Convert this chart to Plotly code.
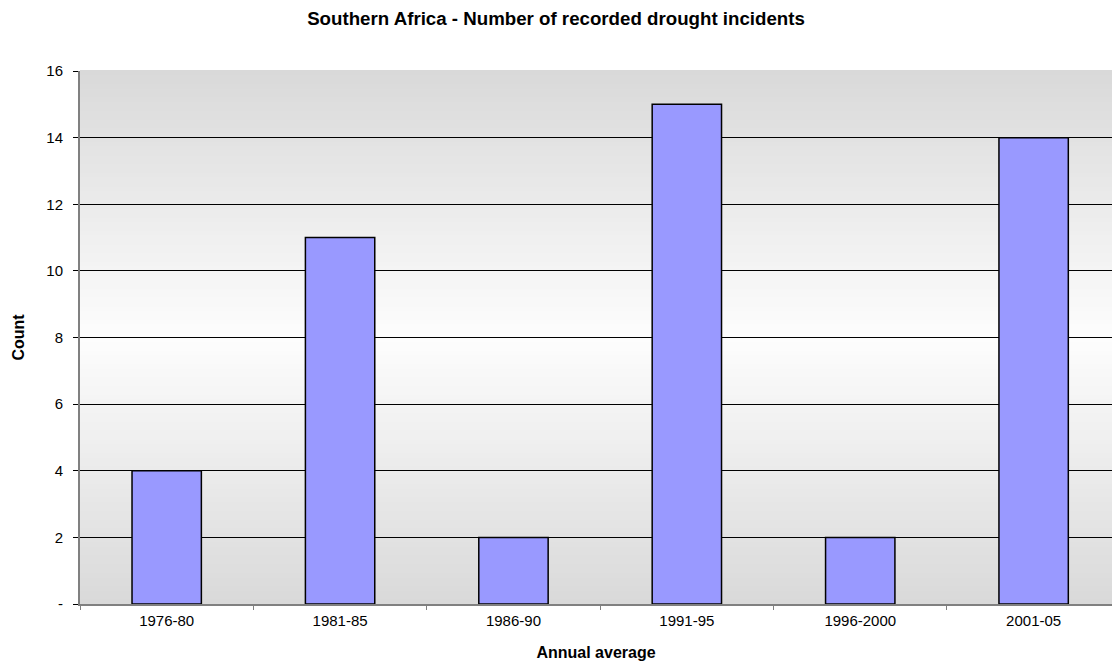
import plotly.graph_objects as go

# Five-year periods and recorded drought counts
periods = ["1976-80", "1981-85", "1986-90", "1991-95", "1996-2000", "2001-05"]
counts = [4, 11, 2, 15, 2, 14]
y_ticks = [0, 2, 4, 6, 8, 10, 12, 14, 16]
y_tick_text = ["-", "2", "4", "6", "8", "10", "12", "14", "16"]

FONT = "Liberation Sans, Arial, sans-serif"

fig = go.Figure(
    go.Bar(
        x=periods,
        y=counts,
        width=0.4,
        marker=dict(color="#9999ff", line=dict(color="#000000", width=1.5)),
        hoverinfo="x+y",
    )
)

# Vertical background gradient: grey at top and bottom, white in the middle
shapes = []
n = 120
for i in range(n):
    y0 = i / n
    y1 = (i + 1) / n
    t = abs((y0 + y1) / 2 - 0.5) * 2
    c = round(253 - (253 - 217) * t)
    shapes.append(dict(
        type="rect", xref="x domain", yref="y domain",
        x0=0, x1=1, y0=y0, y1=y1 + 0.002,
        fillcolor=f"rgb({c},{c},{c})", line=dict(width=0), layer="below",
    ))

fig.update_layout(
    width=1112, height=664,
    margin=dict(l=80, r=0, t=71, b=60),
    paper_bgcolor="white",
    plot_bgcolor="white",
    shapes=shapes,
    showlegend=False,
    font=dict(family=FONT, size=15, color="#000000"),
    title=dict(
        text="<b>Southern Africa - Number of recorded drought incidents</b>",
        x=0.5, xanchor="center", y=1 - 18 / 664, yanchor="middle",
        font=dict(family=FONT, size=18.7, color="#000000"),
    ),
    xaxis=dict(
        type="category",
        range=[-0.5, 5.452],
        tickson="boundaries",
        ticks="outside", ticklen=4, tickcolor="#808080", tickwidth=1,
        ticklabelstandoff=2,
        showline=True, linecolor="#808080", linewidth=2,
        showgrid=False, zeroline=False,
        tickfont=dict(family=FONT, size=15, color="#000000"),
        title=dict(text="<b>Annual average</b>", standoff=19,
                   font=dict(family=FONT, size=16, color="#000000")),
    ),
    yaxis=dict(
        range=[0, 16],
        tickvals=y_ticks, ticktext=y_tick_text,
        ticks="outside", ticklen=5, tickcolor="#000000", tickwidth=1,
        ticklabelstandoff=7,
        showline=True, linecolor="#808080", linewidth=2,
        showgrid=True, gridcolor="#000000", gridwidth=1,
        zeroline=False,
        tickfont=dict(family=FONT, size=15, color="#000000"),
        title=dict(text="<b>Count</b>", standoff=18,
                   font=dict(family=FONT, size=16, color="#000000")),
    ),
)

fig.write_html("out.html")
